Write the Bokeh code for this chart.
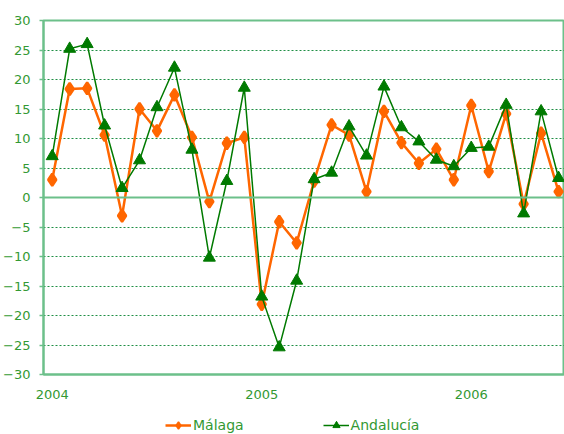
from bokeh.plotting import figure
from bokeh.layouts import column
from bokeh.models import Legend, LegendItem, FixedTicker, Span, Range1d
from bokeh.embed import file_html
from bokeh.resources import INLINE

months = list(range(30))  # Jan 2004 .. Jun 2006
malaga = [3.0, 18.4, 18.5, 10.6, -3.1, 15.0, 11.3, 17.4, 10.2, -0.7,
          9.2, 10.2, -18.1, -4.1, -7.7, 2.8, 12.3, 10.6, 1.0, 14.6,
          9.3, 5.8, 8.2, 3.0, 15.6, 4.4, 14.2, -1.1, 10.9, 1.0]
andalucia = [7.0, 25.2, 26.0, 12.2, 1.6, 6.3, 15.3, 22.0, 8.1, -10.2,
             2.8, 18.6, -16.8, -25.4, -14.1, 3.1, 4.2, 12.05, 7.1, 18.8,
             11.9, 9.5, 6.4, 5.3, 8.4, 8.6, 15.7, -2.7, 14.6, 3.3]
year_ticks = [0, 12, 24]
year_labels = ["2004", "2005", "2006"]
y_ticks = list(range(-30, 31, 5))

GREEN_TXT = "#339933"
GRID = "#1f8f45"
LIGHT = "#6cc08a"
ORANGE = "#ff6600"
DGREEN = "#007a00"
FONT = "DejaVu Sans"

p = figure(width=564, height=410, output_backend="svg", toolbar_location=None,
           x_range=Range1d(-0.5, 29.34), y_range=Range1d(-30, 30),
           min_border_left=42, min_border_top=20, min_border_right=0,
           min_border_bottom=36)
p.background_fill_color = "white"
p.border_fill_color = "white"
p.outline_line_color = LIGHT
p.outline_line_width = 2

p.xgrid.grid_line_color = None
p.ygrid.ticker = FixedTicker(ticks=y_ticks)
p.ygrid.grid_line_color = GRID
p.ygrid.grid_line_dash = "2 2"
p.ygrid.grid_line_width = 1

zero = Span(location=0, dimension="width", line_color=LIGHT, line_width=2)
p.add_layout(zero)

p.yaxis.ticker = FixedTicker(ticks=y_ticks)
p.yaxis.axis_line_color = LIGHT
p.yaxis.axis_line_width = 2
p.yaxis.major_tick_line_color = LIGHT
p.yaxis.major_tick_line_width = 1.5
p.yaxis.major_tick_out = 4
p.yaxis.major_tick_in = 0
p.yaxis.minor_tick_line_color = None
p.yaxis.major_label_standoff = 9
p.yaxis.major_label_text_color = GREEN_TXT
p.yaxis.major_label_text_font = FONT
p.yaxis.major_label_text_font_size = "13px"

p.xaxis.ticker = FixedTicker(ticks=year_ticks)
p.xaxis.major_label_overrides = {t: l for t, l in zip(year_ticks, year_labels)}
p.xaxis.axis_line_color = LIGHT
p.xaxis.axis_line_width = 2
p.xaxis.major_tick_line_color = None
p.xaxis.minor_tick_line_color = None
p.xaxis.major_label_standoff = 9
p.xaxis.major_label_text_color = GREEN_TXT
p.xaxis.major_label_text_font = FONT
p.xaxis.major_label_text_font_size = "13px"

p.line(months, malaga, line_color=ORANGE, line_width=2.5)
p.scatter(months, malaga, marker="diamond", size=12, fill_color=ORANGE,
          line_color=ORANGE, line_width=2.5)
p.line(months, andalucia, line_color=DGREEN, line_width=1.5)
p.scatter(months, andalucia, marker="triangle", size=12, fill_color=DGREEN,
          line_color=DGREEN)

# legend strip: renderers draw the same series, out of this strip's view
lg = figure(width=564, height=24, output_backend="svg", toolbar_location=None,
            x_range=Range1d(-0.5, 29.34), y_range=Range1d(1000, 1001), min_border=0,
            x_axis_location=None, y_axis_location=None)
lg.grid.grid_line_color = None
lg.outline_line_color = None
lml = lg.line(months, malaga, line_color=ORANGE, line_width=2.5)
lms = lg.scatter(months, malaga, marker="diamond", size=10, fill_color=ORANGE,
                 line_color=ORANGE, line_width=1.5)
lal = lg.line(months, andalucia, line_color=DGREEN, line_width=1.5)
las = lg.scatter(months, andalucia, marker="triangle", size=10, fill_color=DGREEN,
                 line_color=DGREEN)
legend = Legend(items=[LegendItem(label="Málaga", renderers=[lml, lms], index=0),
                       LegendItem(label="Andalucía", renderers=[lal, las], index=0)],
                orientation="horizontal", location=(122, 0),
                label_text_color=GREEN_TXT, label_text_font=FONT,
                label_text_font_size="14px", border_line_color=None,
                background_fill_alpha=0, spacing=79, padding=0, margin=0,
                glyph_width=26, label_standoff=2, label_height=18, glyph_height=18)
lg.add_layout(legend)

open("out.html", "w").write(file_html(column(p, lg, spacing=0), INLINE))
